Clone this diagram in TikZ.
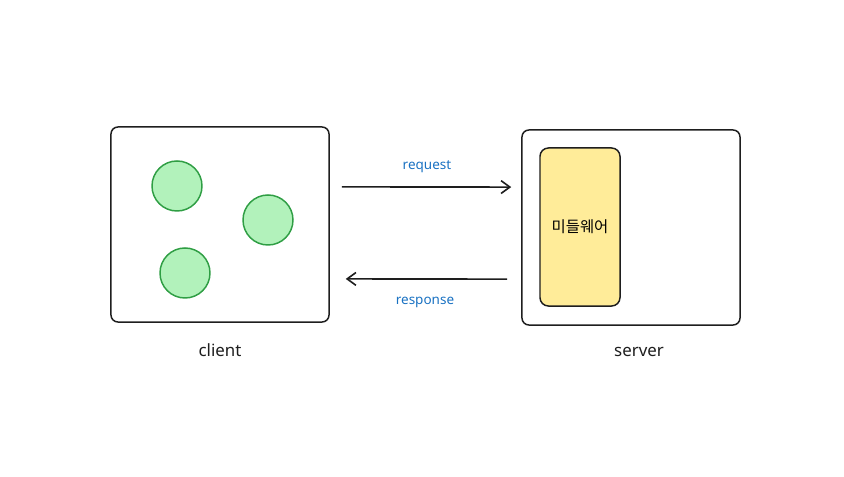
\documentclass[tikz,border=0pt]{standalone}
\usepackage{fontspec}
\setmainfont{Noto Sans}
\newfontfamily\krfont{Noto Sans CJK KR}
\usepackage{tikz}
\usetikzlibrary{arrows.meta, positioning, calc}
\definecolor{boxline}{HTML}{1E1E1E}
\definecolor{dotfill}{HTML}{B2F2BB}
\definecolor{dotline}{HTML}{2F9E44}
\definecolor{mwfill}{HTML}{FFEC99}
\definecolor{msgtext}{HTML}{1971C2}

\begin{document}
\begin{tikzpicture}[
    x=0.025cm, y=-0.025cm,
    host/.style={rectangle, rounded corners=5pt, draw=boxline, line width=1.05pt,
                 minimum width=5.45cm, minimum height=4.875cm},
    dot/.style={circle, draw=dotline, fill=dotfill, line width=1.05pt,
                minimum size=1.25cm, inner sep=0pt},
    mw/.style={rectangle, rounded corners=6pt, draw=boxline, fill=mwfill, line width=1.05pt,
               minimum width=2cm, minimum height=3.95cm, font=\krfont\fontsize{11}{13}\selectfont},
    hostlabel/.style={font=\fontsize{12}{14}\selectfont, text=boxline},
    msg/.style={font=\fontsize{9.6}{11}\selectfont, text=msgtext},
    arrow/.style={-{Straight Barb[length=2.2mm, width=3.2mm]}, line width=1.15pt, color=boxline}
  ]
    \useasboundingbox (0,0) rectangle (844,477);

    \node[host] (client) at (220, 224.5) {};
    \node[dot] (dota) at (177, 186) {};
    \node[dot] (dotb) at (268, 220) {};
    \node[dot] (dotc) at (185, 273) {};
    \node[hostlabel] (clientlbl) at (220, 350) {client};

    \node[host] (server) at (631, 227.5) {};
    \node[mw] (middleware) at (580, 227) {미들웨어};
    \node[hostlabel] (serverlbl) at (639, 352) {server};

    \draw[arrow] ([xshift=0.3cm, yshift=0.94cm]client.east) -- ([xshift=-0.25cm, yshift=1.01cm]server.west);
    \draw[arrow] ([xshift=-0.35cm, yshift=-1.29cm]server.west) -- ([xshift=0.4cm, yshift=-1.36cm]client.east);

    \node[msg] (reqlbl) at (427, 167) {request};
    \node[msg] (reslbl) at (425, 302) {response};
  \end{tikzpicture}
\end{document}
